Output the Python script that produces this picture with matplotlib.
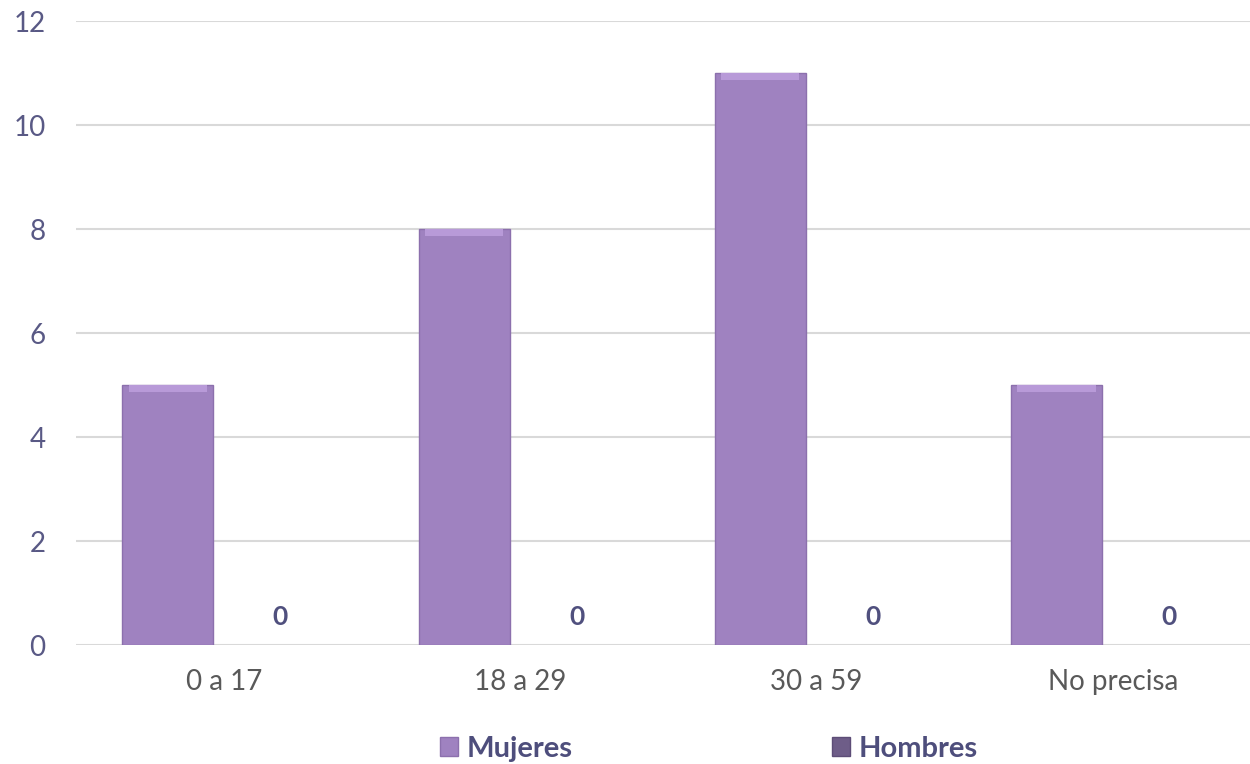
import matplotlib
matplotlib.use("Agg")
import matplotlib.pyplot as plt
import numpy as np
from matplotlib.patches import Patch

categories = ["0 a 17", "18 a 29", "30 a 59", "No precisa"]
mujeres = [5, 8, 11, 5]
hombres = [0, 0, 0, 0]
series_names = ["Mujeres", "Hombres"]
yticks = [0, 2, 4, 6, 8, 10, 12]

plt.rcParams['font.family'] = ['Lato', 'DejaVu Sans']

fig = plt.figure(figsize=(12.5, 7.64), dpi=100)
ax = fig.add_axes([76/1250, (764-645)/764, 1185/1250, 624/764])

x = np.arange(len(categories))
off = 0.19
w = 0.307
c_muj = "#9f82c0"
c_hom = "#6e5d88"
ax.bar(x - off, mujeres, width=w, color=c_muj, edgecolor="#8c70ad", linewidth=1.0, zorder=3)
# subtle bevel highlight at top of bars
bev = 0.13
ax.bar(x - off, bev, bottom=np.array(mujeres) - bev, width=w * 0.86, color="#b89ad8",
       linewidth=0, zorder=4)
ax.bar(x + off, hombres, width=w, color=c_hom, edgecolor="#5d4d77", linewidth=0.0, zorder=3)

for xi, v in zip(x, hombres):
    ax.text(xi + off, v + 0.3, f"{v}", ha="center", va="bottom", fontsize=19,
            fontweight="bold", color="#50507e", zorder=5)

ax.set_xlim(-0.5, len(categories) - 0.5)
ax.set_ylim(0, 12)
ax.set_yticks(yticks)
ax.set_yticklabels([str(t) for t in yticks], fontsize=20, color="#595985")
ax.set_xticks(x)
ax.set_xticklabels(categories, fontsize=20, color="#595959")
ax.tick_params(axis="both", length=0)
ax.tick_params(axis="y", pad=22)
ax.tick_params(axis="x", pad=17)
ax.grid(axis="y", color="#d9d9d9", linewidth=1.5, zorder=0)
ax.set_axisbelow(True)
for s in ax.spines.values():
    s.set_visible(False)

handles = [Patch(facecolor=c_muj, edgecolor="#8c70ad"), Patch(facecolor=c_hom, edgecolor="#5d4d77")]
ly = (764 - 749) / 764
for h, name, lx in zip(handles, series_names, [440 / 1250, 832 / 1250]):
    fig.legend([h], [name], loc="center left", bbox_to_anchor=(lx, ly),
               frameon=False, borderpad=0, borderaxespad=0,
               handlelength=0.6, handleheight=0.6, handletextpad=0.3,
               prop={"size": 21, "weight": "bold"}, labelcolor="#4e4e7c")

fig.savefig("out.png", dpi=100)
